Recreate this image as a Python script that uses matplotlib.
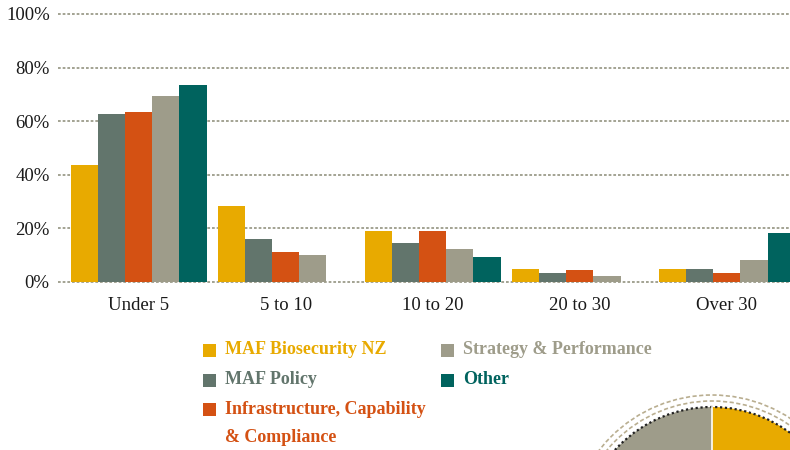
import matplotlib
matplotlib.use("Agg")
import matplotlib.pyplot as plt
import numpy as np
from matplotlib.patches import Wedge, Arc, Rectangle

categories = ["Under 5", "5 to 10", "10 to 20", "20 to 30", "Over 30"]
series_names = ["MAF Biosecurity NZ", "MAF Policy", "Infrastructure, Capability\n& Compliance",
                "Strategy & Performance", "Other"]
biosecurity = [43.6, 28.3, 18.9, 4.7, 4.7]
policy = [62.6, 15.9, 14.5, 3.2, 4.7]
infrastructure = [63.4, 11.1, 18.9, 4.4, 3.2]
strategy = [69.4, 10.0, 12.2, 2.1, 8.1]
other = [73.5, 0.0, 9.2, 0.0, 18.2]
yticks = [0, 20, 40, 60, 80, 100]
ytick_labels = ["0%", "20%", "40%", "60%", "80%", "100%"]

colors = ["#E8AA00", "#62756C", "#D45113", "#9E9C8A", "#00635E"]
values = [biosecurity, policy, infrastructure, strategy, other]

W, H = 790, 450
fig = plt.figure(figsize=(W / 100, H / 100), dpi=100)
serif = ["Liberation Serif", "DejaVu Serif"]

ax = fig.add_axes([58 / W, (H - 282) / H, 732 / W, 268 / H])
x = np.arange(len(categories))
bw = 0.185
for j, (vals, c) in enumerate(zip(values, colors)):
    ax.bar(x + (j - 2) * bw, vals, width=bw, color=c, zorder=3, linewidth=0)

ax.set_ylim(0, 100)
ax.set_xlim(-0.548, 4.43)
ax.set_yticks(yticks)
ax.set_yticklabels(ytick_labels, fontfamily=serif, fontsize=13.5, color="#1a1a1a")
ax.set_xticks(x)
ax.set_xticklabels(categories, fontfamily=serif, fontsize=13.5, color="#1a1a1a")
ax.tick_params(axis="both", length=0)
ax.tick_params(axis="y", pad=6)
ax.tick_params(axis="x", pad=11)
for s in ax.spines.values():
    s.set_visible(False)
for yv in yticks:
    ax.axhline(yv, color="#A3A393", lw=1.4, linestyle=(0, (1.4, 1.0)), zorder=1, clip_on=False)

# overlay in pixel coordinates
ov = fig.add_axes([0, 0, 1, 1], zorder=5)
ov.set_xlim(0, W)
ov.set_ylim(0, H)
ov.axis("off")
ov.patch.set_alpha(0)

legend_items = [
    (203, 350, 225, 0),
    (203, 380, 225, 1),
    (203, 409, 225, 2),
    (441, 350, 463, 3),
    (441, 380, 463, 4),
]
for sx, sy, tx, j in legend_items:
    ov.add_patch(Rectangle((sx, H - sy - 6.5), 13, 13, color=colors[j], lw=0))
    lines = series_names[j].split("\n")
    for k, line in enumerate(lines):
        ov.text(tx, H - sy - k * 28, line, color=colors[j], fontfamily=serif,
                fontweight="bold", fontsize=13, va="center", ha="left")

# decorative semicircle
cx, cy, r = 712, H - 538, 131
ov.add_patch(Wedge((cx, cy), r, 90, 180, color="#9E9C8A", lw=0))
ov.add_patch(Wedge((cx, cy), r, 0, 90, color="#E8AA00", lw=0))
ov.plot([cx, cx], [cy, cy + r], color="white", lw=1.2)
ov.add_patch(Arc((cx, cy), 2 * r, 2 * r, theta1=0, theta2=180, color="#222222",
                 lw=1.6, linestyle=(0, (1, 1.2))))
for rr in (r + 6, r + 12):
    ov.add_patch(Arc((cx, cy), 2 * rr, 2 * rr, theta1=0, theta2=180, color="#B9AE90",
                     lw=1.2, linestyle=(0, (2.5, 1.5))))

fig.savefig("out.png", dpi=100)
